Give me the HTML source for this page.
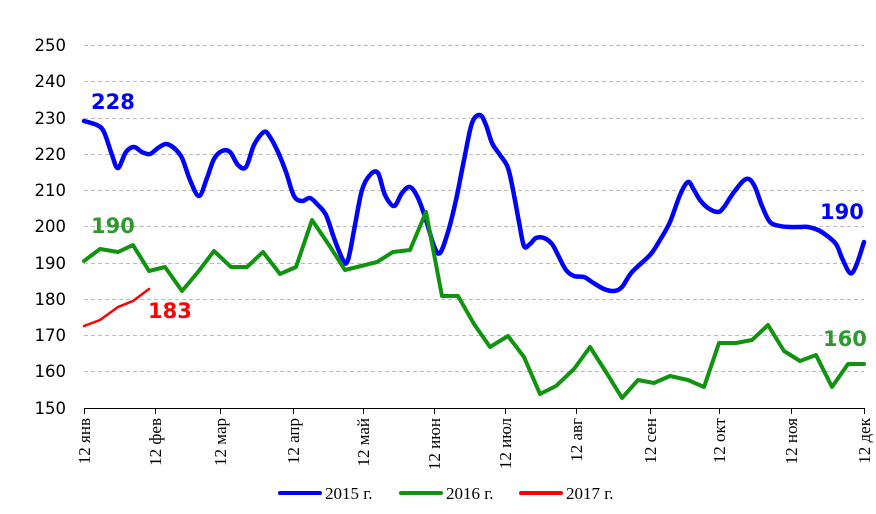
<!DOCTYPE html>
<html><head><meta charset="utf-8"><style>body{margin:0;background:#fff}svg{display:block}</style></head><body>
<svg width="876" height="514" xmlns="http://www.w3.org/2000/svg">
<g stroke="#bbb" stroke-dasharray="4,3" stroke-width="1">
<line x1="84" x2="864" y1="45.5" y2="45.5"/><line x1="84" x2="864" y1="81.5" y2="81.5"/><line x1="84" x2="864" y1="118.5" y2="118.5"/><line x1="84" x2="864" y1="154.5" y2="154.5"/><line x1="84" x2="864" y1="190.5" y2="190.5"/><line x1="84" x2="864" y1="226.5" y2="226.5"/><line x1="84" x2="864" y1="263.5" y2="263.5"/><line x1="84" x2="864" y1="299.5" y2="299.5"/><line x1="84" x2="864" y1="335.5" y2="335.5"/><line x1="84" x2="864" y1="371.5" y2="371.5"/>
</g>
<g font-family="DejaVu Sans, sans-serif" font-size="16.5" text-anchor="end" fill="#000">
<text x="66" y="51">250</text><text x="66" y="87">240</text><text x="66" y="124">230</text><text x="66" y="160">220</text><text x="66" y="196">210</text><text x="66" y="232">200</text><text x="66" y="269">190</text><text x="66" y="305">180</text><text x="66" y="341">170</text><text x="66" y="377">160</text><text x="66" y="414">150</text>
</g>
<line x1="84" x2="864" y1="408.5" y2="408.5" stroke="#000"/>
<g stroke="#000"><line x1="84.5" x2="84.5" y1="408" y2="414"/><line x1="155.5" x2="155.5" y1="408" y2="414"/><line x1="220.5" x2="220.5" y1="408" y2="414"/><line x1="293.5" x2="293.5" y1="408" y2="414"/><line x1="363.5" x2="363.5" y1="408" y2="414"/><line x1="434.5" x2="434.5" y1="408" y2="414"/><line x1="505.5" x2="505.5" y1="408" y2="414"/><line x1="576.5" x2="576.5" y1="408" y2="414"/><line x1="650.5" x2="650.5" y1="408" y2="414"/><line x1="719.5" x2="719.5" y1="408" y2="414"/><line x1="791.5" x2="791.5" y1="408" y2="414"/><line x1="864.5" x2="864.5" y1="408" y2="414"/></g>
<g font-family="Liberation Serif, serif" font-size="17" text-anchor="end" fill="#000">
<text transform="translate(90,418) rotate(-90)">12 янв</text>
<text transform="translate(161,418) rotate(-90)">12 фев</text>
<text transform="translate(226,418) rotate(-90)">12 мар</text>
<text transform="translate(299,418) rotate(-90)">12 апр</text>
<text transform="translate(369,418) rotate(-90)">12 май</text>
<text transform="translate(440,418) rotate(-90)">12 июн</text>
<text transform="translate(511,418) rotate(-90)">12 июл</text>
<text transform="translate(582,418) rotate(-90)">12 авг</text>
<text transform="translate(656,418) rotate(-90)">12 сен</text>
<text transform="translate(725,418) rotate(-90)">12 окт</text>
<text transform="translate(797,418) rotate(-90)">12 ноя</text>
<text transform="translate(870,418) rotate(-90)">12 дек</text>
</g>
<g fill="none" stroke-linejoin="round" stroke-linecap="round">
<polyline id="blue" stroke="#0000ff" stroke-width="4.5" points="84,121 97,125 104,132 112,155 118,168 126,152 134,147 142,152 150,154 158,148 166,144 174,148 182,158 190,180 199,196 207,178 214,159 222,151 230,152 238,165 246,167 254,145 264,132 270,137 278,152 286,172 294,196 302,201 310,198 318,205 326,215 334,238 343,260 348,260 355,225 362,190 370,175 378,173 385,195 394,206 402,193 410,187 418,198 426,220 434,246 440,253 448,232 456,200 464,160 472,123 480,115 486,125 492,143 500,155 508,168 514,195 519,222 524,246 530,244 536,238 544,238 552,244 558,255 566,270 574,276 584,277 592,282 604,289 614,291 622,287 632,272 650,255 660,240 670,222 680,195 688,182 694,190 700,200 708,208 718,212 724,207 734,192 746,179 754,185 762,206 770,222 780,226 790,227 800,227 808,227 818,230 826,235 836,244 842,258 850,273 856,266 864,242"/>
<path id="bluepath" stroke="#0000ff" stroke-width="4.5" d=""/>
<polyline stroke="#109410" stroke-width="4" points="84,261 100,249 118,252 133,245 149,271 165,267 182,291 198,272 214,251 231,267 247,267 263,252 280,274 296,267 312,220 329,245 345,270 361,266 377,262 393,252 410,250 426,212 442,296 458,296 474,324 490,347 508,336 524,357 540,394 556,386 574,369 590,347 606,372 622,398 638,380 654,383 670,376 688,380 704,387 719,343 736,343 752,340 768,325 784,351 800,361 816,355 832,387 848,364 864,364"/>
<polyline stroke="#ff0000" stroke-width="2.5" points="84,326 100,320 118,307 133,301 149,289"/>
</g>
<g font-family="DejaVu Sans, sans-serif" font-size="21" font-weight="bold">
<text x="91" y="109" fill="#0000ff">228</text>
<text x="91" y="233" fill="#2e9a2e">190</text>
<text x="148" y="318" fill="#ff0000">183</text>
<text x="820" y="219" fill="#0000ff">190</text>
<text x="823" y="346" fill="#2e9a2e">160</text>
</g>
<g stroke-width="4" stroke-linecap="round">
<line x1="280" x2="320" y1="493" y2="493" stroke="#0000ff"/>
<line x1="401" x2="441" y1="493" y2="493" stroke="#109410"/>
<line x1="521" x2="561" y1="493" y2="493" stroke="#ff0000"/>
</g>
<g font-family="Liberation Serif, serif" font-size="17" fill="#000">
<text x="325" y="499">2015 г.</text><text x="446" y="499">2016 г.</text><text x="566" y="499">2017 г.</text>
</g>
</svg>
<script>
(function(){
var pl=document.getElementById('blue');
var pts=pl.getAttribute('points').trim().split(/\s+/).map(function(s){return s.split(',').map(Number);});
var d='M'+pts[0][0]+','+pts[0][1];
for(var i=0;i<pts.length-1;i++){
var p0=pts[Math.max(i-1,0)],p1=pts[i],p2=pts[i+1],p3=pts[Math.min(i+2,pts.length-1)];
var c1x=p1[0]+(p2[0]-p0[0])/6,c1y=p1[1]+(p2[1]-p0[1])/6;
var c2x=p2[0]-(p3[0]-p1[0])/6,c2y=p2[1]-(p3[1]-p1[1])/6;
d+=' C'+c1x.toFixed(1)+','+c1y.toFixed(1)+' '+c2x.toFixed(1)+','+c2y.toFixed(1)+' '+p2[0]+','+p2[1];
}
document.getElementById('bluepath').setAttribute('d',d);
pl.parentNode.removeChild(pl);
})();
</script>
</body></html>
